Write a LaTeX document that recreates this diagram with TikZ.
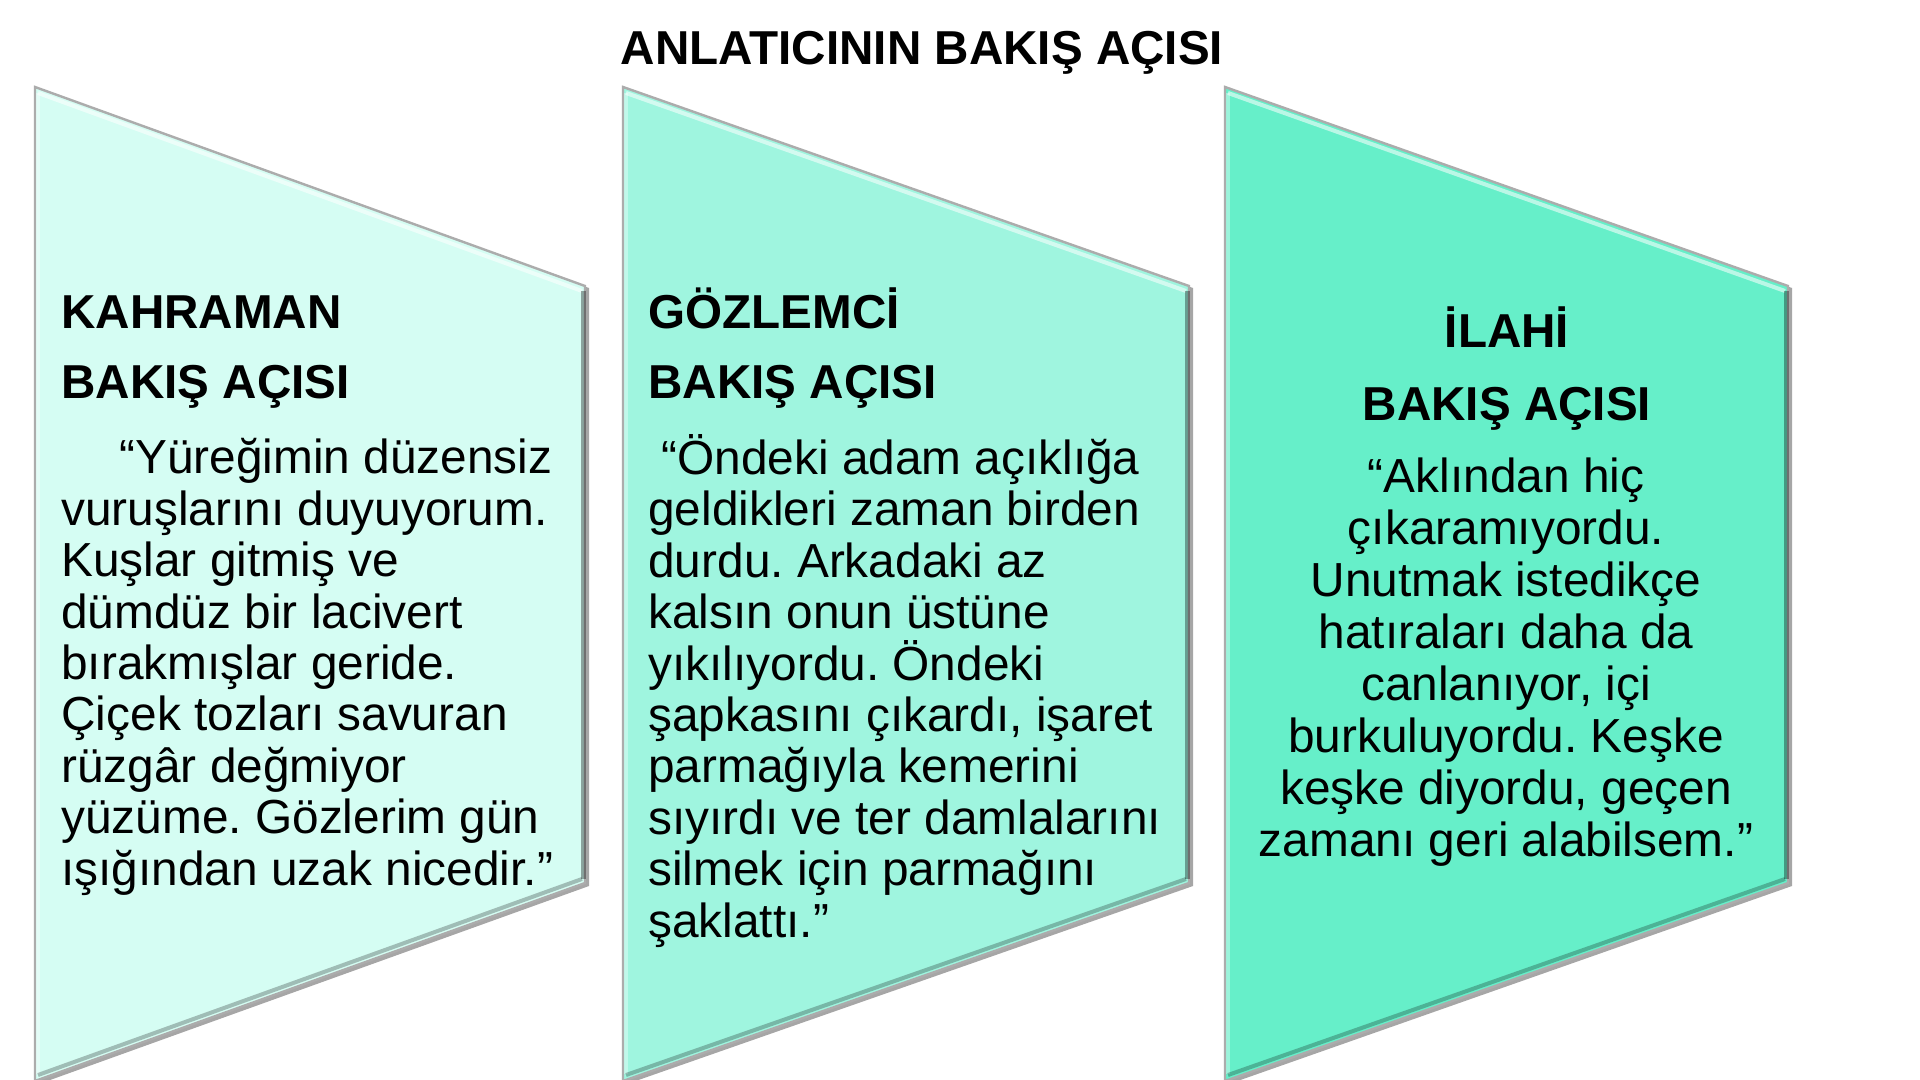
\documentclass[tikz,border=0pt]{standalone}
\usepackage{fontspec}
\setmainfont{Liberation Sans}
\frenchspacing
\definecolor{fillA}{HTML}{D5FDF3}
\definecolor{fillB}{HTML}{9FF5DF}
\definecolor{fillC}{HTML}{66EFC9}
\tikzset{
  panel/.style={fill=#1, draw=gray!65, line width=1.2},
  panelshadow/.style={fill=black, opacity=0.35},
  headtxt/.style={inner sep=0pt, align=left, font=\fontsize{23.8}{35}\selectfont\bfseries},
  bodytxt/.style={inner sep=0pt, align=left, font=\fontsize{23.9}{25.7}\selectfont},
  headc/.style={inner sep=0pt, align=center, font=\fontsize{23.8}{36}\selectfont\bfseries},
  bodyc/.style={inner sep=0pt, align=center, font=\fontsize{23.9}{26}\selectfont},
  titletxt/.style={inner sep=0pt, font=\fontsize{23.8}{28}\selectfont\bfseries}
}
\begin{document}
\begin{tikzpicture}[x=0.5pt,y=-0.5pt]
\useasboundingbox (0,0) rectangle (1920,1080);
\fill[white] (0,0) rectangle (1920,1080);
% shadows
\foreach \l/\r in {35/585,623/1189,1225/1788}{
  \fill[panelshadow] (\l+4,89) -- (\r+4,288) -- (\r+4,886) -- (\l+4,1084) -- cycle;
}
% panels
\path[panel=fillA] (35,87) -- (585,286) -- (585,883) -- (35,1081) -- cycle;
\path[panel=fillB] (623,87) -- (1189,286) -- (1189,883) -- (623,1081) -- cycle;
\path[panel=fillC] (1225,87) -- (1788,286) -- (1788,883) -- (1225,1081) -- cycle;
% bevel highlights
\foreach \l/\r in {35/585,623/1189,1225/1788}{
  \draw[white, opacity=0.55, line width=2] (\l+3,93) -- (\r-3,291);
  \draw[white, opacity=0.35, line width=2] (\l+3,93) -- (\l+3,1074);
  \draw[black, opacity=0.35, line width=2.5] (\r-2,291) -- (\r-2,879);
  \draw[black, opacity=0.25, line width=2] (\r-3,879) -- (\l+3,1075);
}
% title
\node[titletxt, anchor=base] (title) at (922,65) {ANLATICININ BAKIŞ AÇISI};
% panel 1 (anchors at baseline of last line)
\node[headtxt, anchor=base west] (h1) at (61,398) {KAHRAMAN\\BAKIŞ AÇISI};
\node[bodytxt, anchor=base west] (b1) at (61,885) {\hspace*{29pt}“Yüreğimin düzensiz\\vuruşlarını duyuyorum.\\Kuşlar gitmiş ve\\dümdüz bir lacivert\\bırakmışlar geride.\\Çiçek tozları savuran\\rüzgâr değmiyor\\yüzüme. Gözlerim gün\\ışığından uzak nicedir.”};
% panel 2
\node[headtxt, anchor=base west] (h2) at (648,398) {GÖZLEMCİ\\BAKIŞ AÇISI};
\node[bodytxt, anchor=base west] (b2) at (648,937) {\hspace*{6.5pt}“Öndeki adam açıklığa\\geldikleri zaman birden\\durdu. Arkadaki az\\kalsın onun üstüne\\yıkılıyordu. Öndeki\\şapkasını çıkardı, işaret\\parmağıyla kemerini\\sıyırdı ve ter damlalarını\\silmek için parmağını\\şaklattı.”};
% panel 3
\node[headc, anchor=base] (h3) at (1507,420) {İLAHİ\\BAKIŞ AÇISI};
\node[bodyc, anchor=base] (b3) at (1506,856) {“Aklından hiç\\çıkaramıyordu.\\Unutmak istedikçe\\hatıraları daha da\\canlanıyor, içi\\burkuluyordu. Keşke\\keşke diyordu, geçen\\zamanı geri alabilsem.”};
\end{tikzpicture}
\end{document}
